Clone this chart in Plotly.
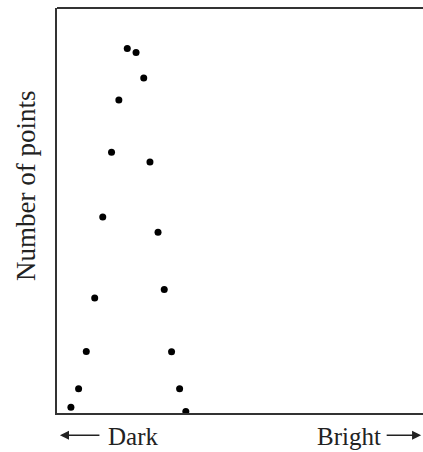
import plotly.graph_objects as go

brightness = [19.2, 21.6, 23.7, 16.9, 14.9, 25.4, 12.5, 27.6, 10.3, 29.3, 8.0, 31.3, 5.9, 33.5, 3.8, 35.2]
count = [90.0, 89.0, 82.7, 77.3, 64.4, 62.0, 48.4, 44.6, 28.4, 30.5, 15.2, 15.1, 6.0, 6.0, 1.4, 0.4]

x_labels = ["Dark", "Bright"]
y_label = "Number of points"

FONT = "Liberation Serif, Times New Roman, serif"

fig = go.Figure()
fig.add_trace(go.Scatter(
    x=brightness, y=count, mode="markers",
    marker=dict(color="black", size=7, symbol="circle"),
    cliponaxis=False, hoverinfo="skip", showlegend=False,
))

fig.update_layout(
    width=423, height=452,
    margin=dict(l=57, r=0, t=8, b=39),
    paper_bgcolor="white", plot_bgcolor="white",
    xaxis=dict(range=[0, 100], showgrid=False, zeroline=False, showticklabels=False,
               ticks="", showline=True, linecolor="#333", linewidth=2, mirror=False),
    yaxis=dict(range=[0, 100], showgrid=False, zeroline=False, showticklabels=False,
               ticks="", showline=True, linecolor="#333", linewidth=2, mirror=False),
    shapes=[dict(type="line", xref="paper", yref="paper", x0=0, x1=1.05, y0=1, y1=1,
                 line=dict(color="#333", width=2))],
)

# Axis title
fig.add_annotation(text=y_label, xref="paper", yref="paper", x=-0.085, y=0.56,
                   textangle=-90, showarrow=False, xanchor="center", yanchor="middle",
                   font=dict(family=FONT, size=27, color="#222"))
# Dark label with left arrow
fig.add_annotation(text=x_labels[0], xref="paper", yref="paper", x=0.134, y=-0.057,
                   xanchor="left", yanchor="middle", showarrow=False,
                   font=dict(family=FONT, size=25, color="#222"))
fig.add_annotation(text="", xref="paper", yref="paper", x=0.008, y=-0.055,
                   ax=41, ay=0, showarrow=True, arrowhead=2, arrowsize=1.3,
                   arrowwidth=1.4, arrowcolor="#222")
# Bright label with right arrow
fig.add_annotation(text=x_labels[1], xref="paper", yref="paper", x=0.891, y=-0.057,
                   xanchor="right", yanchor="middle", showarrow=False,
                   font=dict(family=FONT, size=25, color="#222"))
fig.add_annotation(text="", xref="paper", yref="paper", x=0.995, y=-0.055,
                   ax=-36, ay=0, showarrow=True, arrowhead=2, arrowsize=1.3,
                   arrowwidth=1.4, arrowcolor="#222")

fig.write_html(
    "out.html",
    config={"displayModeBar": False, "staticPlot": True},
    post_script="document.body.style.margin='0';document.body.style.overflow='hidden';",
)
